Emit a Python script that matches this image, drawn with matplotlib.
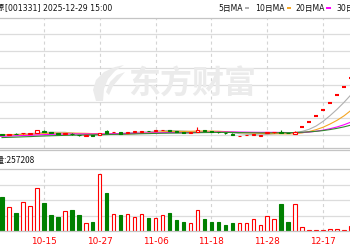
import matplotlib
matplotlib.use('Agg')
import matplotlib.pyplot as plt
import numpy as np
import pandas as pd
from matplotlib.patches import Rectangle, Polygon
from matplotlib.lines import Line2D

plt.rcParams['font.family'] = ['DejaVu Sans', 'Noto Sans CJK SC']
plt.rcParams['lines.scale_dashes'] = False

# ---------------- data ----------------
title_name = "胜通能源"
title_rest = "[001331] 2025-12-29 15:00"
ma_labels = ["5日MA", "10日MA", "20日MA", "30日MA"]
ma_windows = [5, 10, 20, 30]
ma_colors = ['#b0b0b0', '#f5a623', '#ff00ff', '#2e8b2e']
vol_label = "成交量:257208"
date_labels = ["09-25", "10-15", "10-27", "11-06", "11-18", "11-28", "12-17"]
date_idx = [-2, 6, 14, 22, 30, 38, 46]

# closes before the visible window (only seen through the moving averages)
prior_close = [11.2, 11.3, 11.25, 11.4, 11.5, 11.45, 11.6, 11.7, 11.65, 11.8,
               11.9, 12.0, 11.95, 12.1, 12.2, 12.3, 12.25, 12.4, 12.6, 12.7,
               12.8, 12.9, 13.1, 13.3, 13.2, 13.0, 12.9, 13.05, 13.2]

open_ = [13.40, 13.15, 13.45, 13.50, 13.40, 13.75, 14.25, 14.00, 13.70, 13.40,
         13.45, 13.10, 12.80, 12.90, 13.05, 14.20, 13.85, 13.80, 13.75, 13.95,
         14.00, 14.25, 14.15, 14.45, 14.60, 14.10, 13.85, 13.75, 13.90, 14.45,
         14.10, 13.90, 13.70, 13.45, 12.75, 12.95, 13.10, 12.85, 13.65, 13.80,
         14.00, 13.65, 13.40, 15.40, 16.94, 18.63, 20.50, 22.55, 24.80, 27.28,
         30.01]
close = [13.15, 13.25, 13.35, 13.62, 13.48, 14.45, 14.05, 13.70, 13.45, 13.52,
         13.20, 12.90, 12.90, 12.75, 13.70, 13.55, 13.95, 13.35, 13.88, 14.10,
         14.25, 14.15, 14.55, 14.60, 14.30, 13.85, 13.75, 13.85, 14.60, 14.15,
         13.95, 13.80, 13.50, 13.10, 12.82, 13.05, 13.25, 12.95, 13.85, 13.90,
         13.70, 13.55, 14.00, 15.40, 16.94, 18.63, 20.50, 22.55, 24.80, 27.28,
         30.01]
high = [13.45, 13.35, 13.55, 13.70, 13.55, 14.55, 14.40, 14.05, 13.75, 13.60,
        13.50, 13.15, 12.95, 12.95, 13.75, 14.45, 14.00, 13.85, 13.95, 14.15,
        14.30, 14.30, 14.60, 14.65, 14.65, 14.15, 13.90, 13.90, 15.55, 14.50,
        14.15, 13.95, 13.75, 13.50, 12.85, 13.10, 13.30, 13.00, 13.90, 13.95,
        14.45, 13.70, 14.20, 15.40, 16.94, 18.63, 20.50, 22.55, 24.80, 27.28,
        30.01]
low = [13.10, 13.10, 13.30, 13.45, 13.35, 13.70, 13.95, 13.65, 13.40, 13.35,
       13.15, 12.85, 12.75, 12.70, 13.00, 13.50, 13.80, 13.30, 13.70, 13.90,
       13.95, 14.10, 14.10, 14.40, 14.25, 13.80, 13.70, 13.70, 13.85, 14.10,
       13.90, 13.75, 13.45, 13.05, 12.70, 12.90, 13.05, 12.80, 13.60, 13.75,
       13.65, 13.50, 13.35, 15.40, 16.94, 18.63, 20.50, 22.55, 24.80, 27.28,
       30.01]
volume = [340, 240, 180, 290, 250, 430, 280, 160, 140, 200,
          210, 160, 80, 90, 570, 380, 170, 160, 170, 140,
          170, 130, 130, 160, 180, 110, 90, 80, 210, 120,
          90, 90, 60, 80, 80, 80, 120, 60, 150, 120,
          270, 90, 270, 40, 10, 10, 10, 20, 20, 10,
          50]

price_grid = [13, 18, 23, 28, 33, 38, 43]
vol_grid = [155, 310, 465]

# ---------------- layout helpers ----------------
W, H = 350, 250
def FX(px):
    return px / W
def FY(py):
    return 1 - py / H

RED = '#ff0000'
GREEN = '#008000'
GRID = '#dcdcdc'
VGRID = '#d4d4d4'
BORDER = '#c4c4c4'

fig = plt.figure(figsize=(3.5, 2.5), dpi=100)
fig.patch.set_facecolor('white')

xlim = (-2 / 6.98, (W - 2) / 6.98)

ax = fig.add_axes([0, FY(148), 1, 130 / H])
axv = fig.add_axes([0, FY(231), 1, 62 / H])
for a in (ax, axv):
    a.set_xlim(*xlim)
    a.set_facecolor('none')
    a.set_xticks([])
    a.set_yticks([])
    for s in a.spines.values():
        s.set_visible(False)

ax.set_ylim(9.15, 47.9)
axv.set_ylim(0, 620)

# grid
for g in price_grid:
    ax.axhline(g, color=GRID, lw=0.9, zorder=0.3)
for g in vol_grid:
    axv.axhline(g, color=GRID, lw=0.9, zorder=0.3)
for d in date_idx:
    ax.axvline(d, color=VGRID, lw=0.8, ls=(0, (2.2, 2.2)), zorder=0.3)
    axv.axvline(d, color=VGRID, lw=0.8, ls=(0, (2.2, 2.2)), zorder=0.3)

# frame lines
for py in (18, 148, 150, 169, 231):
    fig.add_artist(Line2D([0, 1], [FY(py), FY(py)], color=BORDER, lw=0.9,
                          transform=fig.transFigure))

# watermark
wm_poly1 = [(96, 101), (93, 90), (96, 80), (104, 72), (115, 67), (124, 65),
            (115, 71), (108, 79), (104, 89), (103, 101)]
wm_poly2 = [(106, 92), (110, 82), (117, 75), (125, 72), (119, 79), (113, 86), (109, 95)]
for poly in (wm_poly1, wm_poly2):
    ax.add_patch(Polygon([(FX(x), FY(y)) for x, y in poly], closed=True,
                         facecolor='#ebebeb', edgecolor='none',
                         transform=fig.transFigure, zorder=0.5))
ax.text(FX(192), FY(85), "东方财富", transform=fig.transFigure, fontsize=23,
        fontweight='bold', color='#ebebeb', ha='center', va='center',
        family=['Noto Sans CJK SC'], zorder=0.5)

# moving averages
full_close = pd.Series(prior_close + close)
xs_full = np.arange(-len(prior_close), len(close))
for w, c in zip(ma_windows, ma_colors):
    ma = full_close.rolling(w).mean().values
    ax.plot(xs_full, ma, color=c, lw=0.8, zorder=2)

# candles
bw = 0.5
n = len(close)
for i in range(n):
    o, c, h, l = open_[i], close[i], high[i], low[i]
    up = c >= o
    col = RED if up else GREEN
    if h > l:
        ax.vlines(i, l, h, color=col, lw=0.8, zorder=3)
    bottom = min(o, c)
    height = abs(c - o)
    if height < 1e-9:
        ax.add_patch(Rectangle((i - bw / 2, bottom), bw, 0, facecolor=col,
                               edgecolor=col, lw=1.5, zorder=4))
    else:
        ax.add_patch(Rectangle((i - bw / 2, bottom), bw, height,
                               facecolor='white' if up else GREEN,
                               edgecolor=col, lw=0.8, zorder=4))
    # volume
    axv.add_patch(Rectangle((i - bw / 2, 0), bw, volume[i],
                            facecolor='white' if up else GREEN,
                            edgecolor=col, lw=0.8, zorder=3))

# header texts
fig.text(FX(5), FY(8), title_name, ha='right', va='center', fontsize=5.6,
         color='#111111', family=['Noto Sans CJK SC'])
fig.text(FX(5), FY(8), title_rest, ha='left', va='center', fontsize=5.6,
         color='#111111')

# legend
leg_x = [218, 255, 295, 336]
leg_texts = []
for lx, lab, c in zip(leg_x, ma_labels, ma_colors):
    t = fig.text(FX(lx), FY(8), lab, ha='left', va='center', fontsize=5.6,
                 color='#111111', family=['DejaVu Sans', 'Noto Sans CJK SC'])
    leg_texts.append(t)

fig.canvas.draw()
renderer = fig.canvas.get_renderer()
for t, c in zip(leg_texts, ma_colors):
    bb = t.get_window_extent(renderer)
    x0 = bb.x1 + 2
    fig.add_artist(Rectangle((x0 / W, FY(9)), 4.5 / W, 2.2 / H,
                             facecolor=c, edgecolor='none',
                             transform=fig.transFigure))

# volume label
fig.text(FX(35), FY(160), vol_label, ha='right', va='center', fontsize=6,
         color='#111111', family=['Noto Sans CJK SC', 'DejaVu Sans'])

# date labels
for d, lab in zip(date_idx, date_labels):
    xpx = 2 + 6.98 * d
    fig.text(FX(xpx), FY(241), lab, ha='center', va='center', fontsize=6.4,
             color=RED)

fig.savefig('out.png', dpi=100, facecolor='white')
